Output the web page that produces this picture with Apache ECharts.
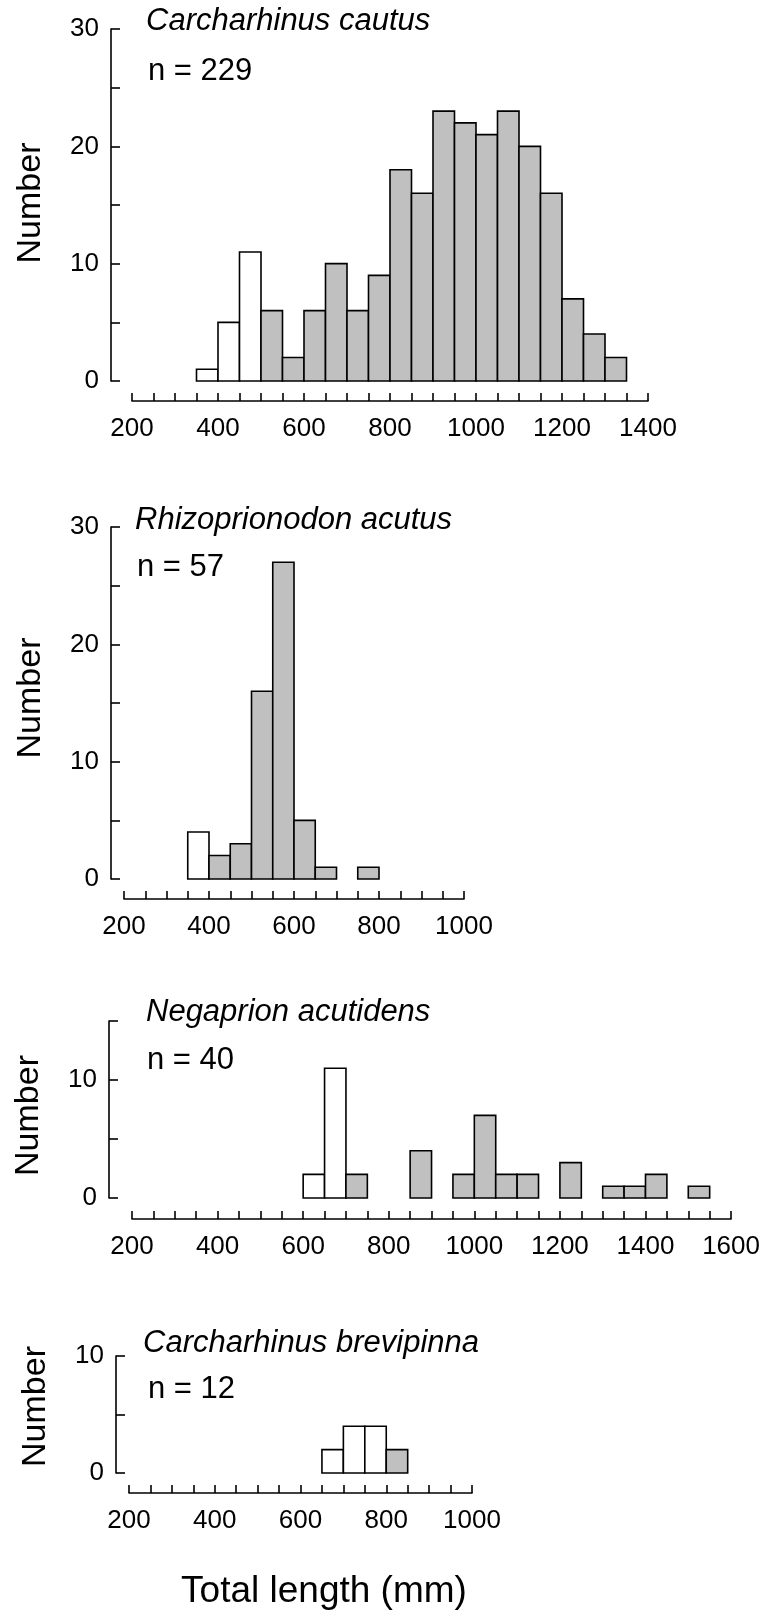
<!DOCTYPE html>
<html>
<head>
<meta charset="utf-8">
<script src="https://cdn.jsdelivr.net/npm/echarts@6/dist/echarts.min.js"></script>
<style>
html,body{margin:0;padding:0;background:#fff;}
#chart{width:763px;height:1612px;}
</style>
</head>
<body>
<div id="chart"></div>
<script>
// ---------------- DATA ----------------
const BIN_WIDTH = 50;

// Panel 1: Carcharhinus cautus
const cautusTitle = 'Carcharhinus cautus';
const cautusN = 'n = 229';
const cautusOpenBins = [350, 400, 450];
const cautusOpenCounts = [1, 5, 11];
const cautusFilledBins = [500, 550, 600, 650, 700, 750, 800, 850, 900, 950, 1000, 1050, 1100, 1150, 1200, 1250, 1300];
const cautusFilledCounts = [6, 2, 6, 10, 6, 9, 18, 16, 23, 22, 21, 23, 20, 16, 7, 4, 2];
const cautusXTicks = [200, 400, 600, 800, 1000, 1200, 1400];
const cautusYTicks = [0, 10, 20, 30];

// Panel 2: Rhizoprionodon acutus
const acutusTitle = 'Rhizoprionodon acutus';
const acutusN = 'n = 57';
const acutusOpenBins = [350];
const acutusOpenCounts = [4];
const acutusFilledBins = [400, 450, 500, 550, 600, 650, 750];
const acutusFilledCounts = [2, 3, 16, 27, 5, 1, 1];
const acutusXTicks = [200, 400, 600, 800, 1000];
const acutusYTicks = [0, 10, 20, 30];

// Panel 3: Negaprion acutidens
const acutidensTitle = 'Negaprion acutidens';
const acutidensN = 'n = 40';
const acutidensOpenBins = [600, 650];
const acutidensOpenCounts = [2, 11];
const acutidensFilledBins = [700, 850, 950, 1000, 1050, 1100, 1200, 1300, 1350, 1400, 1500];
const acutidensFilledCounts = [2, 4, 2, 7, 2, 2, 3, 1, 1, 2, 1];
const acutidensXTicks = [200, 400, 600, 800, 1000, 1200, 1400, 1600];
const acutidensYTicks = [0, 10];

// Panel 4: Carcharhinus brevipinna
const brevipinnaTitle = 'Carcharhinus brevipinna';
const brevipinnaN = 'n = 12';
const brevipinnaOpenBins = [650, 700, 750];
const brevipinnaOpenCounts = [2, 4, 4];
const brevipinnaFilledBins = [800];
const brevipinnaFilledCounts = [2];
const brevipinnaXTicks = [200, 400, 600, 800, 1000];
const brevipinnaYTicks = [0, 10];

const yAxisTitle = 'Number';
const xAxisTitle = 'Total length (mm)';

// ---------------- LAYOUT / STYLE ----------------
const FONT = 'Liberation Sans, Arial, sans-serif';
const OPEN_COLOR = '#ffffff';
const FILLED_COLOR = '#c0c0c0';
const LINE_W = 1.6;
const TICK_FONT = 26;
const LABEL_FONT = 31;

const panels = [
  {openBins: cautusOpenBins, openCounts: cautusOpenCounts, filledBins: cautusFilledBins, filledCounts: cautusFilledCounts,
   xTicks: cautusXTicks, yTicks: cautusYTicks, xMin: 200, xMax: 1400, yMax: 30,
   grid: {left: 132, top: 29, width: 516, height: 352}, xOff: 20, yOff: 21, namePad: [0, 0, 0, 4],
   title: cautusTitle, n: cautusN, titlePos: [146, 21], nPos: [148, 71]},
  {openBins: acutusOpenBins, openCounts: acutusOpenCounts, filledBins: acutusFilledBins, filledCounts: acutusFilledCounts,
   xTicks: acutusXTicks, yTicks: acutusYTicks, xMin: 200, xMax: 1000, yMax: 30,
   grid: {left: 124, top: 527, width: 340, height: 352}, xOff: 20, yOff: 13, namePad: [0, 0, 0, 10],
   title: acutusTitle, n: acutusN, titlePos: [135, 520], nPos: [137, 567]},
  {openBins: acutidensOpenBins, openCounts: acutidensOpenCounts, filledBins: acutidensFilledBins, filledCounts: acutidensFilledCounts,
   xTicks: acutidensXTicks, yTicks: acutidensYTicks, xMin: 200, xMax: 1600, yMax: 15,
   grid: {left: 132, top: 1021, width: 601, height: 177}, xOff: 21, yOff: 23, namePad: [0, 12, 0, 0],
   title: acutidensTitle, n: acutidensN, titlePos: [146, 1012], nPos: [147, 1060]},
  {openBins: brevipinnaOpenBins, openCounts: brevipinnaOpenCounts, filledBins: brevipinnaFilledBins, filledCounts: brevipinnaFilledCounts,
   xTicks: brevipinnaXTicks, yTicks: brevipinnaYTicks, xMin: 200, xMax: 1000, yMax: 10,
   grid: {left: 129, top: 1356, width: 343, height: 117}, xOff: 20, yOff: 13, namePad: [0, 0, 0, 16],
   title: brevipinnaTitle, n: brevipinnaN, titlePos: [143, 1343], nPos: [148, 1389]}
];

function makeRender(fill) {
  return function (params, api) {
    const x0 = api.value(0);
    const count = api.value(1);
    const p0 = api.coord([x0, 0]);
    const p1 = api.coord([x0 + BIN_WIDTH, count]);
    return {
      type: 'rect',
      shape: {x: p0[0], y: p1[1], width: p1[0] - p0[0], height: p0[1] - p1[1]},
      style: {fill: fill, stroke: '#000', lineWidth: LINE_W}
    };
  };
}

const grids = [], xAxes = [], yAxes = [], series = [], graphics = [];
panels.forEach((p, i) => {
  grids.push(Object.assign({containLabel: false}, p.grid));
  xAxes.push({
    type: 'value', gridIndex: i, min: p.xMin, max: p.xMax, interval: BIN_WIDTH,
    offset: p.xOff,
    axisLine: {show: true, onZero: false, lineStyle: {color: '#000', width: LINE_W}},
    axisTick: {show: true, inside: true, length: 8, lineStyle: {color: '#000', width: LINE_W}},
    axisLabel: {color: '#000', fontFamily: FONT, fontSize: TICK_FONT, margin: 15,
      formatter: v => (p.xTicks.indexOf(v) >= 0 ? String(v) : '')},
    splitLine: {show: false}
  });
  yAxes.push({
    type: 'value', gridIndex: i, min: 0, max: p.yMax, interval: 5,
    offset: p.yOff,
    axisLine: {show: true, lineStyle: {color: '#000', width: LINE_W}},
    axisTick: {show: true, inside: true, length: 9, lineStyle: {color: '#000', width: LINE_W}},
    axisLabel: {color: '#000', fontFamily: FONT, fontSize: TICK_FONT, margin: 12,
      formatter: v => (p.yTicks.indexOf(v) >= 0 ? String(v) : '')},
    splitLine: {show: false},
    name: yAxisTitle, nameLocation: 'middle', nameGap: 63, nameRotate: 90,
    nameTextStyle: {color: '#000', fontFamily: FONT, fontSize: 34, padding: p.namePad}
  });
  series.push({type: 'custom', xAxisIndex: i, yAxisIndex: i, renderItem: makeRender(OPEN_COLOR),
    data: p.openBins.map((b, k) => [b, p.openCounts[k]]), animation: false, clip: false});
  series.push({type: 'custom', xAxisIndex: i, yAxisIndex: i, renderItem: makeRender(FILLED_COLOR),
    data: p.filledBins.map((b, k) => [b, p.filledCounts[k]]), animation: false, clip: false});
  graphics.push({type: 'text', x: p.titlePos[0], y: p.titlePos[1],
    style: {text: p.title, fontFamily: FONT, fontSize: LABEL_FONT, fontStyle: 'italic', fill: '#000',
      align: 'left', verticalAlign: 'middle'}});
  graphics.push({type: 'text', x: p.nPos[0], y: p.nPos[1],
    style: {text: p.n, fontFamily: FONT, fontSize: LABEL_FONT, fill: '#000',
      align: 'left', verticalAlign: 'middle'}});
});
graphics.push({type: 'text', x: 324, y: 1592,
  style: {text: xAxisTitle, fontFamily: FONT, fontSize: 37, fill: '#000', align: 'center', verticalAlign: 'middle'}});

const chart = echarts.init(document.getElementById('chart'), null, {renderer: 'canvas'});
chart.setOption({
  animation: false,
  backgroundColor: '#fff',
  grid: grids, xAxis: xAxes, yAxis: yAxes, series: series, graphic: graphics
});
</script>
</body>
</html>
